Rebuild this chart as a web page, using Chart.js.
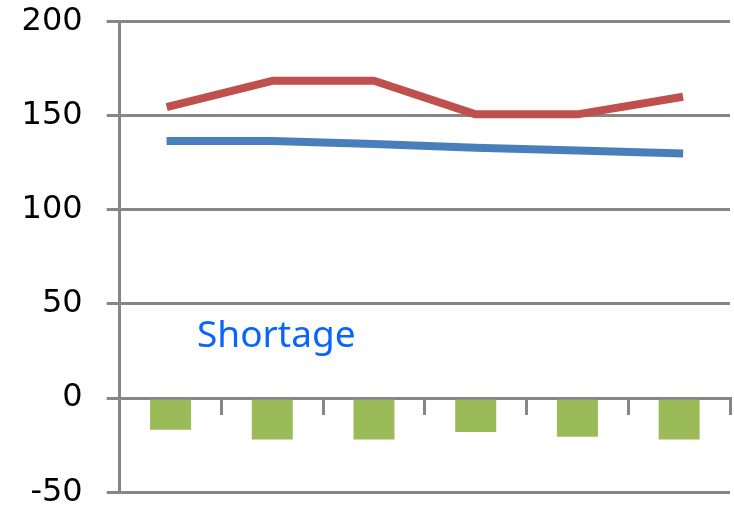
<!DOCTYPE html>
<html>
<head>
<meta charset="utf-8">
<script src="https://cdn.jsdelivr.net/npm/chart.js@4/dist/chart.umd.min.js"></script>
<style>
  html, body { margin: 0; padding: 0; background: #fff; }
  #wrap { width: 734px; height: 508px; position: relative; }
</style>
</head>
<body>
<div id="wrap"><canvas id="chart"></canvas></div>
<script>
const categories = ['1', '2', '3', '4', '5', '6'];
const redValues = [155, 168.5, 168.5, 150.7, 150.7, 159.7];
const blueValues = [136.5, 136.5, 135, 133, 131.5, 130];
const shortageValues = [-16.8, -22, -22, -18, -20.5, -22];
const yTicks = [-50, 0, 50, 100, 150, 200];

const gridGray = '#868686';

// "Shortage" label sits inside the plot
const labelPlugin = {
  id: 'shortageLabel',
  afterDatasetsDraw(chart) {
    const ctx = chart.ctx;
    ctx.save();
    ctx.font = '37px "Noto Sans"';
    ctx.fillStyle = '#0A64FF';
    ctx.textBaseline = 'alphabetic';
    ctx.fillText('Shortage', 197, 347);
    ctx.restore();
  }
};

const chart = new Chart(document.getElementById('chart'), {
  data: {
    labels: categories,
    datasets: [
      {
        type: 'line',
        data: redValues,
        borderColor: '#C0504D',
        borderWidth: 8,
        pointRadius: 0,
        borderJoinStyle: 'round',
        borderCapStyle: 'square',
        tension: 0
      },
      {
        type: 'line',
        data: blueValues,
        borderColor: '#4A7EBB',
        borderWidth: 8,
        pointRadius: 0,
        borderJoinStyle: 'round',
        borderCapStyle: 'square',
        tension: 0
      },
      {
        type: 'bar',
        data: shortageValues,
        backgroundColor: '#9BBB59',
        categoryPercentage: 1,
        barPercentage: 0.403
      }
    ]
  },
  options: {
    responsive: true,
    maintainAspectRatio: false,
    animation: false,
    layout: { padding: { left: 21.7, right: 4, top: 21.5, bottom: 15.7 } },
    plugins: {
      legend: { display: false },
      tooltip: { enabled: false }
    },
    scales: {
      x: {
        type: 'category',
        position: { y: 0 },
        offset: true,
        afterFit(axis) {
          axis.height = 0;
        },
        grid: {
          offset: true,
          drawOnChartArea: false,
          drawTicks: true,
          tickLength: 15,
          color: gridGray,
          lineWidth: 3
        },
        border: { display: true, color: gridGray, width: 3 },
        ticks: { display: false }
      },
      y: {
        min: -50,
        max: 200,
        afterBuildTicks(axis) {
          axis.ticks = yTicks.map(v => ({ value: v }));
        },
        afterFit(axis) {
          axis.width = 98;
          axis.paddingTop = 0;
          axis.paddingBottom = 0;
        },
        grid: {
          color: gridGray,
          lineWidth: 3,
          tickLength: 13
        },
        border: { display: true, color: gridGray, width: 3 },
        ticks: {
          padding: 24,
          color: '#000',
          font: { family: '"DejaVu Sans"', size: 32, lineHeight: 1 }
        }
      }
    }
  },
  plugins: [labelPlugin]
});
</script>
</body>
</html>
